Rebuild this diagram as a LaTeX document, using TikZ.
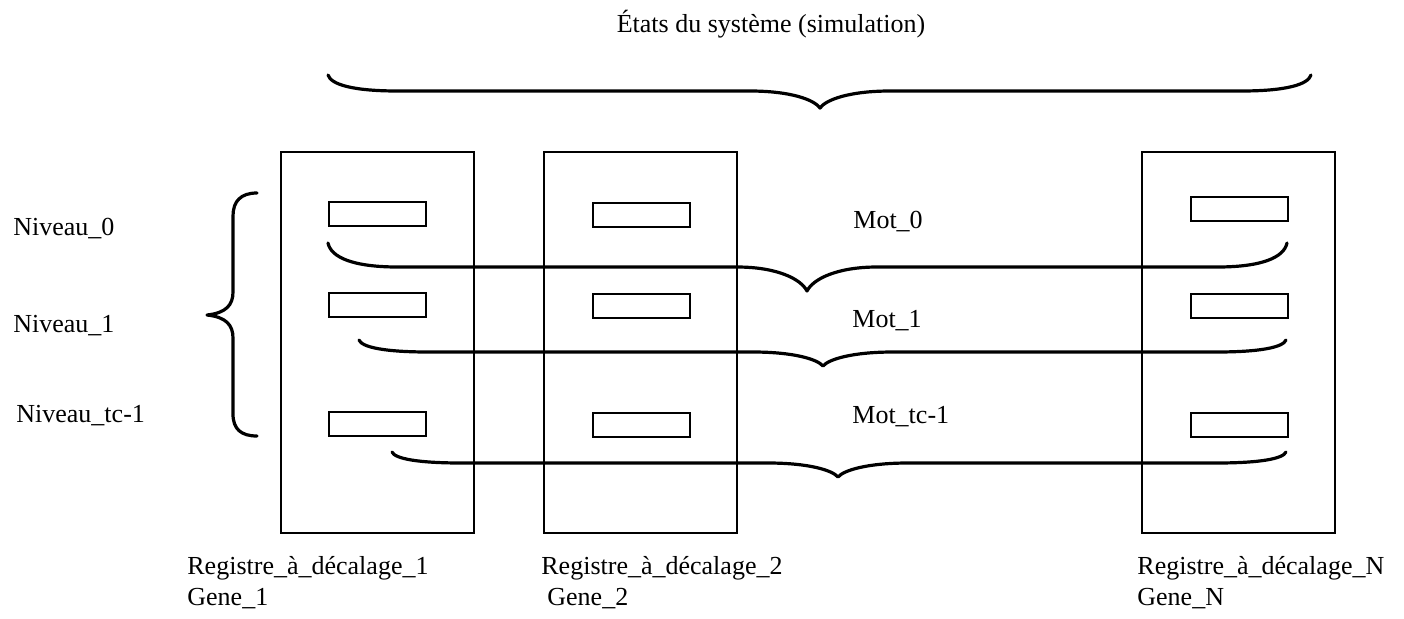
\documentclass[tikz,border=0pt]{standalone}
\usepackage{fontspec}
\setmainfont{Liberation Serif}
% horizontal curly brace: left end x, end y, bar y, tip x, tip y, right end x
\newcommand\hcurly[6]{%
  \draw[curly] (#1,#2) .. controls ({#1+3},{0.4*#2+0.6*#3}) and ({#1+25},#3) .. ({#1+70},#3)
    -- ({#4-70},#3) .. controls ({#4-30},#3) and ({#4-6},{0.5*#3+0.5*#5}) .. (#4,#5)
    .. controls ({#4+6},{0.5*#3+0.5*#5}) and ({#4+30},#3) .. ({#4+70},#3)
    -- ({#6-70},#3) .. controls ({#6-25},#3) and ({#6-3},{0.4*#2+0.6*#3}) .. (#6,#2);}
\begin{document}
\begin{tikzpicture}[x=0.5pt,y=-0.5pt,
  reg/.style={draw, line width=1pt, minimum width=96.5pt, minimum height=190.5pt,
    anchor=north west, inner sep=0pt},
  cell/.style={draw, line width=0.9pt, minimum width=48.5pt, minimum height=12pt,
    anchor=north west, inner sep=0pt},
  curly/.style={line width=1.6pt, line cap=round, line join=round},
  lbl/.style={inner sep=0pt, anchor=base west, font=\fontsize{13}{15}\selectfont},
  lbltwo/.style={inner sep=0pt, anchor=north west, align=left,
    font=\fontsize{13}{15.5}\selectfont}]
\useasboundingbox (0,0) rectangle (1404,618);

% title and global brace
\node[lbl, anchor=base] (title) at (771,32) {États du système (simulation)};
\hcurly{328}{75}{91}{820}{108}{1311}

% shift registers
\node[reg] (r1) at (280,151) {};
\node[reg] (r2) at (543,151) {};
\node[reg] (rn) at (1141,151) {};

% word cells in each register
\node[cell] (c10) at (328,201) {};
\node[cell] (c11) at (328,292) {};
\node[cell] (c12) at (328,411) {};
\node[cell] (c20) at (592,202) {};
\node[cell] (c21) at (592,293) {};
\node[cell] (c22) at (592,412) {};
\node[cell] (cn0) at (1190,196) {};
\node[cell] (cn1) at (1190,293) {};
\node[cell] (cn2) at (1190,412) {};

% level labels and their brace
\node[lbl] (n0) at (13,235) {Niveau\_0};
\node[lbl] (n1) at (13,332) {Niveau\_1};
\node[lbl] (n2) at (16,422) {Niveau\_tc-1};
\draw[curly] (257,193) .. controls (241,193) and (233,201) .. (233,216) -- (233,292)
  .. controls (233,305) and (226,313) .. (207,315)
  .. controls (226,317) and (233,325) .. (233,338) -- (233,414)
  .. controls (233,429) and (241,436) .. (257,436);

% word braces
\hcurly{328}{243}{267}{807}{291}{1287}
\hcurly{359}{340}{352}{823}{366}{1286}
\hcurly{392}{452}{463}{838}{477}{1286}
\node[lbl] (m0) at (853,228) {Mot\_0};
\node[lbl] (m1) at (852,327) {Mot\_1};
\node[lbl] (m2) at (852,423) {Mot\_tc-1};

% register captions
\node[lbltwo] (g1) at (187,556) {Registre\_à\_décalage\_1\\Gene\_1};
\node[lbltwo] (g2) at (541,556) {Registre\_à\_décalage\_2\\\hspace{3pt}Gene\_2};
\node[lbltwo] (gn) at (1137,556) {Registre\_à\_décalage\_N\\Gene\_N};
\end{tikzpicture}
\end{document}
